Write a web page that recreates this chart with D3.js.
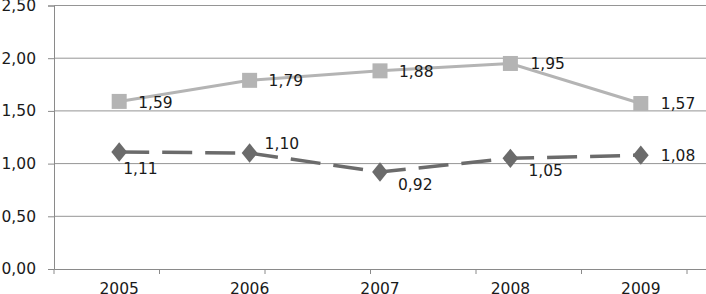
<!DOCTYPE html>
<html><head><meta charset="utf-8">
<script src="https://cdnjs.cloudflare.com/ajax/libs/d3/7.8.5/d3.min.js"></script>
<style>body{margin:0;background:#fff}svg{display:block}text{font-family:"DejaVu Sans",Verdana,sans-serif;fill:#1a1a1a}</style>
</head><body><svg id="c" width="706" height="294"></svg>
<script>
const years = ["2005","2006","2007","2008","2009"];
const seriesLight = [1.59, 1.79, 1.88, 1.95, 1.57];
const seriesDark = [1.11, 1.10, 0.92, 1.05, 1.08];
const yTicks = [0, 0.5, 1.0, 1.5, 2.0, 2.5];
// label offsets (style)
const lightLabelOff = [[19,1],[19,0],[19,1],[20,0],[20,0]];
const darkLabelOff = [[4,16],[15,-10],[18,12],[18,12],[20,0]];

const FS = 15.5;
const svg = d3.select("#c");
const L = 54, R = 706, T = 5.5, B = 269;
const x = d3.scaleBand().domain(years).range([L, R]);
const y = d3.scaleLinear().domain([0, 2.5]).range([B, T]);
const fmt = v => d3.format(".2f")(v).replace(".", ",");

// gridlines
svg.append("g").selectAll("line").data(yTicks.filter(d => d > 0)).join("line")
  .attr("x1", L).attr("x2", R).attr("y1", d => y(d)).attr("y2", d => y(d))
  .attr("stroke", "#959595").attr("stroke-width", 1);

// y axis
const ya = svg.append("g").attr("transform", `translate(${L},0)`)
  .call(d3.axisLeft(y).tickValues(yTicks).tickFormat(fmt).tickSize(6).tickPadding(12));
ya.select(".domain").attr("stroke", "#8a8a8a");
ya.selectAll(".tick line").attr("stroke", "#8a8a8a");
ya.selectAll("text").attr("font-size", FS).style("font-family", "DejaVu Sans").attr("fill", "#1a1a1a");

// x axis
const xa = svg.append("g").attr("transform", `translate(0,${B})`)
  .call(d3.axisBottom(x).tickSize(0).tickPadding(14));
xa.select(".domain").attr("stroke", "#8a8a8a");
xa.selectAll("text").attr("font-size", FS).style("font-family", "DejaVu Sans").attr("fill", "#1a1a1a");
const tickStep = 105.5;
xa.append("g").selectAll("line").data(d3.range(0, 7)).join("line")
  .attr("x1", d => L + d * tickStep).attr("x2", d => L + d * tickStep)
  .attr("y1", 0).attr("y2", 5).attr("stroke", "#8a8a8a");

const cx = d => x(d) + x.bandwidth() / 2;

// light series
const lightColor = "#b4b4b4";
svg.append("path").datum(seriesLight)
  .attr("d", d3.line().x((d, i) => cx(years[i])).y(d => y(d)))
  .attr("fill", "none").attr("stroke", lightColor).attr("stroke-width", 3);
svg.append("g").selectAll("rect").data(seriesLight).join("rect")
  .attr("x", (d, i) => cx(years[i]) - 7.5).attr("y", d => y(d) - 7.5)
  .attr("width", 15).attr("height", 15).attr("fill", lightColor);

// dark series
const darkColor = "#6b6b6b";
svg.append("path").datum(seriesDark)
  .attr("d", d3.line().x((d, i) => cx(years[i])).y(d => y(d)))
  .attr("fill", "none").attr("stroke", darkColor).attr("stroke-width", 3.5)
  .attr("stroke-dasharray", "30,13");
svg.append("g").selectAll("path").data(seriesDark).join("path")
  .attr("d", d3.symbol(d3.symbolDiamond, 150))
  .attr("transform", (d, i) => `translate(${cx(years[i])},${y(d)}) scale(1.2,0.85)`)
  .attr("fill", darkColor);

// labels
svg.append("g").selectAll("text").data(seriesLight).join("text")
  .attr("x", (d, i) => cx(years[i]) + lightLabelOff[i][0])
  .attr("y", (d, i) => y(d) + lightLabelOff[i][1])
  .attr("dy", "0.36em").attr("font-size", FS).text(fmt);
svg.append("g").selectAll("text").data(seriesDark).join("text")
  .attr("x", (d, i) => cx(years[i]) + darkLabelOff[i][0])
  .attr("y", (d, i) => y(d) + darkLabelOff[i][1])
  .attr("dy", "0.36em").attr("font-size", FS).text(fmt);
</script></body></html>
